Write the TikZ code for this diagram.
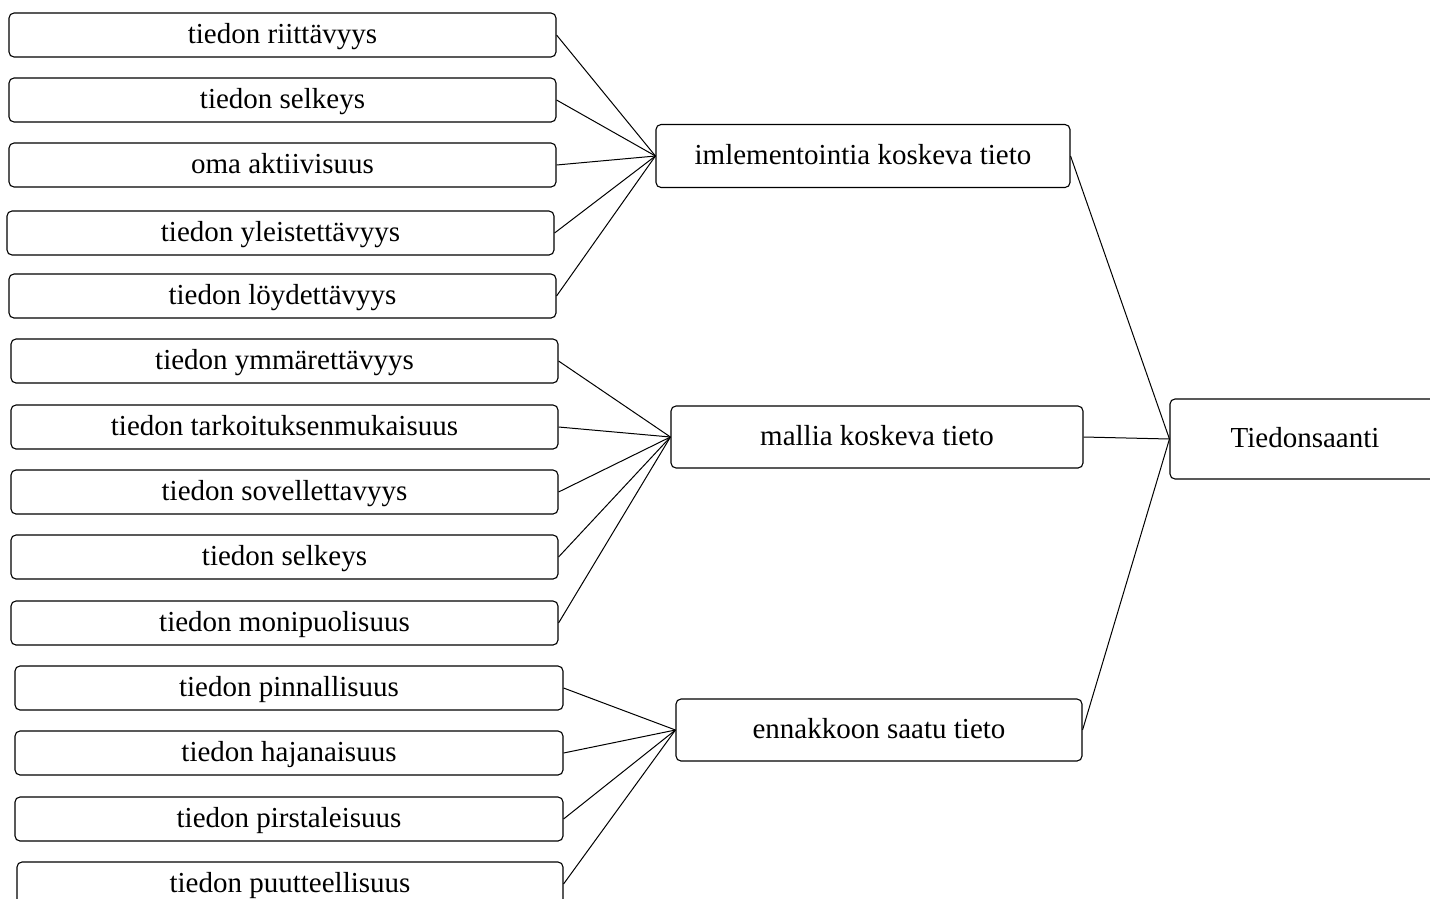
\documentclass[tikz,border=0pt]{standalone}
\usepackage{fontspec}
\setmainfont{Liberation Serif}
\begin{document}
\begin{tikzpicture}[x=1pt,y=-1pt,
  txt/.style={font=\fontsize{29}{32}\selectfont},
  box/.style={draw, line width=1.1pt, rounded corners=5pt, inner sep=0pt,
              txt, text height=20pt, text depth=4pt},
  leafA/.style={box, minimum width=547pt, minimum height=44pt},
  mid/.style={box, minimum height=62pt},
  link/.style={line width=1pt}]
\useasboundingbox (0,0) rectangle (1430,898);
\clip (0,0) rectangle (1430,898);

% first group of factors
\node[leafA] (a1) at (282.5,35)  {tiedon riittävyys};
\node[leafA] (a2) at (282.5,100) {tiedon selkeys};
\node[leafA] (a3) at (282.5,165) {oma aktiivisuus};
\node[leafA] (a4) at (280.5,233) {tiedon yleistettävyys};
\node[leafA] (a5) at (282.5,296) {tiedon löydettävyys};

% second group of factors
\node[leafA] (b1) at (284.5,361) {tiedon ymmärettävyys};
\node[leafA] (b2) at (284.5,427) {tiedon tarkoituksenmukaisuus};
\node[leafA] (b3) at (284.5,492) {tiedon sovellettavyys};
\node[leafA] (b4) at (284.5,557) {tiedon selkeys};
\node[leafA] (b5) at (284.5,623) {tiedon monipuolisuus};

% third group of factors
\node[leafA, minimum width=548pt] (c1) at (289,688) {tiedon pinnallisuus};
\node[leafA, minimum width=548pt] (c2) at (289,753) {tiedon hajanaisuus};
\node[leafA, minimum width=548pt] (c3) at (289,819) {tiedon pirstaleisuus};
\node[leafA, minimum width=546pt] (c4) at (290,884) {tiedon puutteellisuus};

% intermediate categories
\node[mid, minimum width=414pt, minimum height=63pt] (m1) at (863,156) {imlementointia koskeva tieto};
\node[mid, minimum width=412pt] (m2) at (877,437) {mallia koskeva tieto};
\node[mid, minimum width=406pt] (m3) at (879,730) {ennakkoon saatu tieto};

% main concept
\node[box, minimum width=300pt, minimum height=80pt] (top) at (1320,439) {};
\node[txt, inner sep=0pt, text height=20pt, text depth=4pt] (toplbl) at (1305,439) {Tiedonsaanti};

% connectors
\foreach \n in {a1,a2,a3,a4,a5} \draw[link] (\n.east) -- (m1.west);
\foreach \n in {b1,b2,b3,b4,b5} \draw[link] (\n.east) -- (m2.west);
\foreach \n in {c1,c2,c3,c4} \draw[link] (\n.east) -- (m3.west);
\foreach \n in {m1,m2,m3} \draw[link] (\n.east) -- (top.west);
\end{tikzpicture}
\end{document}
